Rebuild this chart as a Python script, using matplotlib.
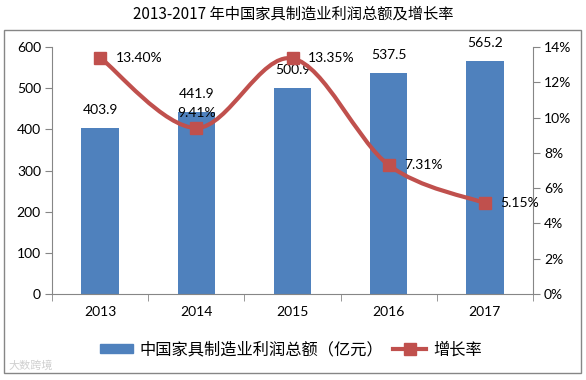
import numpy as np
import matplotlib.pyplot as plt
from matplotlib.path import Path
from matplotlib.patches import PathPatch, Rectangle
from matplotlib.lines import Line2D
from matplotlib.ticker import FuncFormatter

plt.rcParams['font.family'] = ['Lato', 'Noto Sans CJK SC', 'DejaVu Sans']

years = ['2013', '2014', '2015', '2016', '2017']
profit = [403.9, 441.9, 500.9, 537.5, 565.2]          # 亿元
growth = [13.40, 9.41, 13.35, 7.31, 5.15]             # %

bar_color = '#4F81BD'
line_color = '#C0504D'
axis_color = '#868686'

fig = plt.figure(figsize=(5.86, 3.80), dpi=100)
fig.patches.append(Rectangle((4/586, 1-373/380), 577/586, 343/380, transform=fig.transFigure,
                             fill=False, edgecolor=axis_color, linewidth=1))
fig.text(293/586, 1-14/380, '2013-2017 年中国家具制造业利润总额及增长率', ha='center', va='center',
         fontsize=11, fontweight='medium', family=['Noto Sans CJK SC'])

ax = fig.add_axes([52/586, 1-294/380, 481/586, 247/380])
x = np.arange(len(years))
bars = ax.bar(x, profit, width=0.39, color=bar_color, zorder=2)
ax.set_xlim(-0.5, len(years)-0.5)
ax.set_ylim(0, 600)
ax.set_yticks(range(0, 601, 100))
ax.set_xticks(x)
ax.set_xticklabels(years)
ax.set_xticks(np.arange(-0.5, len(years), 1), minor=True)
ax.tick_params(axis='x', which='major', length=0, pad=9, labelsize=10)
ax.tick_params(axis='x', which='minor', length=5, color=axis_color)
ax.tick_params(axis='y', length=5, color=axis_color, labelsize=10, pad=3)
for s in ['top', 'right']:
    ax.spines[s].set_visible(False)
for s in ['left', 'bottom']:
    ax.spines[s].set_color(axis_color)
for xi, v in zip(x, profit):
    ax.annotate(f'{v:.1f}', (xi, v), xytext=(0, 13), textcoords='offset points',
                ha='center', va='center', fontsize=10)

ax2 = ax.twinx()
ax2.set_ylim(0, 14)
ax2.set_yticks(range(0, 15, 2))
ax2.yaxis.set_major_formatter(FuncFormatter(lambda v, p: f'{v:.0f}%'))
ax2.tick_params(axis='y', length=5, color=axis_color, labelsize=10, pad=3)
for s in ['top', 'left', 'bottom']:
    ax2.spines[s].set_visible(False)
ax2.spines['right'].set_color(axis_color)

# smoothed line (Catmull-Rom style bezier through the points)
pts = np.column_stack([x, growth]).astype(float)
verts = [tuple(pts[0])]
codes = [Path.MOVETO]
for i in range(len(pts)-1):
    p0 = pts[i-1] if i > 0 else pts[i]
    p1, p2 = pts[i], pts[i+1]
    p3 = pts[i+2] if i+2 < len(pts) else pts[i+1]
    c1 = p1 + (p2 - p0) / 6
    c2 = p2 - (p3 - p1) / 6
    verts += [tuple(c1), tuple(c2), tuple(p2)]
    codes += [Path.CURVE4]*3
ax2.add_patch(PathPatch(Path(verts, codes), fill=False, edgecolor=line_color, linewidth=3, zorder=3))
ax2.plot(x, growth, linestyle='none', marker='s', markersize=8, color=line_color, zorder=4)
for i, (xi, v) in enumerate(zip(x, growth)):
    if i == 1:
        ax2.annotate(f'{v:.2f}%', (xi, v), xytext=(0, 11), textcoords='offset points',
                     ha='center', va='center', fontsize=10, zorder=5)
    else:
        ax2.annotate(f'{v:.2f}%', (xi, v), xytext=(11, 0), textcoords='offset points',
                     ha='left', va='center', fontsize=10, zorder=5)

handles = [Rectangle((0, 0), 1, 1, color=bar_color),
           Line2D([], [], color=line_color, linewidth=3, marker='s', markersize=8)]
fig.legend(handles, ['中国家具制造业利润总额（亿元）', '增长率'], loc='center',
           bbox_to_anchor=(291/586, 1-350/380), ncol=2, frameon=False,
           handlelength=2.0, handleheight=0.5, columnspacing=0.6, handletextpad=0.45,
           prop={'family': ['Noto Sans CJK SC'], 'size': 11.7})

fig.text(8/586, 1-366/380, '大数跨境', fontsize=8, color='#d0d0d0', va='center',
         family=['Noto Sans CJK SC'])

fig.savefig('out.png', dpi=100)
